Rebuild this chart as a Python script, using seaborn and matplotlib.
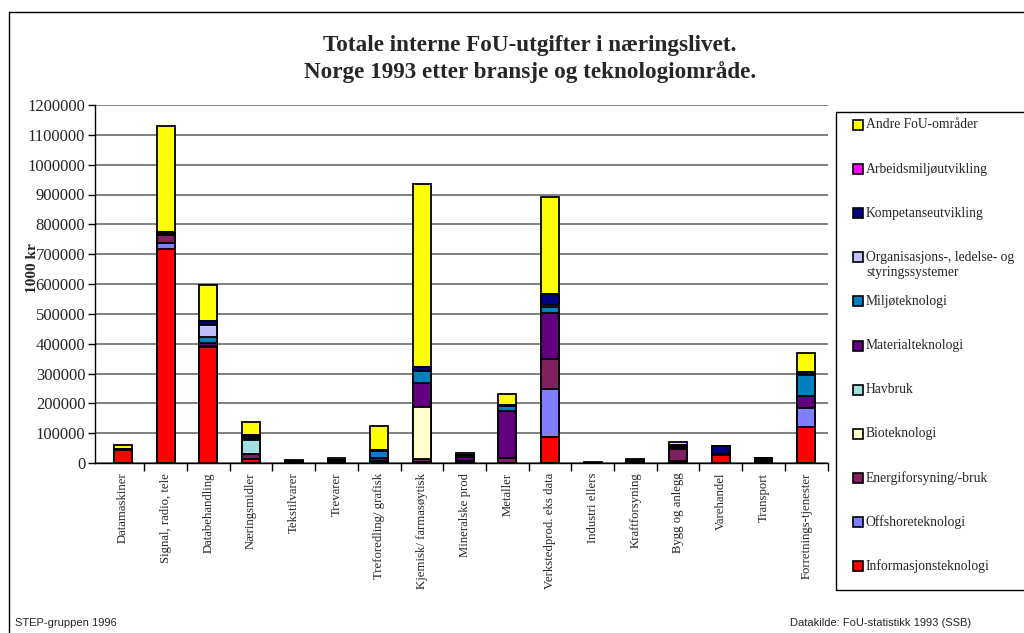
import numpy as np
import pandas as pd
import matplotlib.pyplot as plt
from matplotlib.lines import Line2D
from matplotlib.patches import Rectangle
import seaborn as sns

# ----------------------------------
# Data (1000 kr)
# ----------------------------------
branches = [
    "Datamaskiner", "Signal, radio, tele", "Databehandling", "Næringsmidler",
    "Tekstilvarer", "Trevarer", "Treforedling/ grafisk", "Kjemisk/ farmasøytisk",
    "Mineralske prod", "Metaller", "Verkstedprod. eks data", "Industri ellers",
    "Kraftforsyning", "Bygg og anlegg", "Varehandel", "Transport",
    "Forretnings-tjenester",
]

areas = [
    "Informasjonsteknologi", "Offshoreteknologi", "Energiforsyning/-bruk",
    "Bioteknologi", "Havbruk", "Materialteknologi", "Miljøteknologi",
    "Organisasjons-, ledelse- og\nstyringssystemer", "Kompetanseutvikling",
    "Arbeidsmiljøutvikling", "Andre FoU-områder",
]

colors = [
    "#FF0000", "#8080FF", "#802060", "#FFFFCC", "#A0E0E0", "#600080",
    "#0080C0", "#C0C0FF", "#000080", "#FF00FF", "#FFFF00",
]

informasjon = [45000, 716000, 388000, 14000, 0, 0, 2000, 4000, 2000, 0, 88000, 0, 0, 4000, 27000, 0, 122000]
offshore = [0, 22000, 0, 0, 0, 2000, 0, 0, 0, 0, 159000, 0, 0, 4000, 0, 0, 64000]
energi = [0, 27000, 5000, 16000, 2000, 0, 0, 8000, 4000, 17000, 101000, 0, 3000, 38000, 0, 8000, 0]
bioteknologi = [0, 0, 0, 0, 0, 0, 6000, 175000, 0, 0, 0, 0, 0, 0, 0, 0, 0]
havbruk = [0, 0, 0, 47000, 0, 0, 0, 0, 0, 0, 0, 0, 0, 0, 0, 0, 0]
material = [0, 5000, 10000, 6000, 3000, 5000, 9000, 82000, 14000, 158000, 156000, 1000, 0, 3000, 0, 7000, 40000]
miljo = [0, 0, 18000, 4000, 0, 2000, 22000, 40000, 4000, 17000, 20000, 0, 0, 6000, 4000, 2000, 69000]
organisasjon = [0, 0, 40000, 0, 0, 0, 0, 0, 3000, 0, 4000, 0, 0, 2000, 0, 0, 0]
kompetanse = [3000, 3000, 16000, 8000, 3000, 2000, 6000, 14000, 0, 2000, 39000, 0, 6000, 2000, 26000, 0, 11000]
arbeidsmiljo = [0, 0, 0, 0, 0, 0, 0, 0, 0, 0, 0, 0, 0, 3000, 0, 0, 0]
andre = [14000, 357000, 119000, 43000, 2000, 5000, 79000, 611000, 6000, 36000, 326000, 3000, 3000, 8000, 0, 0, 64000]

series = [informasjon, offshore, energi, bioteknologi, havbruk, material,
          miljo, organisasjon, kompetanse, arbeidsmiljo, andre]

df = pd.DataFrame(np.array(series).T, index=branches, columns=areas)
cum = df.cumsum(axis=1)

# ----------------------------------
# Figure
# ----------------------------------
sns.set_style("white")
plt.rcParams["font.family"] = ["Liberation Serif", "DejaVu Serif"]

fig = plt.figure(figsize=(10.24, 6.33), dpi=100)
W, H = 1024, 633
ax = fig.add_axes([95 / W, 1 - 463 / H, (828 - 95) / W, (463 - 105) / H])

# stacked bars: draw cumulative tops from the highest level down
for i in range(len(areas) - 1, -1, -1):
    sns.barplot(
        x=branches, y=cum.iloc[:, i].values, color=colors[i], saturation=1,
        width=0.42, edgecolor="black", linewidth=1.3, errorbar=None, ax=ax,
    )

ax.set_ylim(0, 1200000)
ax.set_xlim(-0.656, 16.51)
ax.set_yticks(np.arange(0, 1200001, 100000))
ax.set_yticklabels([str(v) for v in range(0, 1200001, 100000)], fontsize=12)
ax.yaxis.grid(True, color="#808080", linewidth=1.4)
ax.set_axisbelow(True)
ax.tick_params(axis="y", which="major", left=True, length=5, width=1, color="black", pad=2)

ax.set_xticks(range(len(branches)))
ax.set_xticklabels(branches, rotation=90, fontsize=9.2)
ax.tick_params(axis="x", which="major", bottom=False, length=0, pad=7)
ax.set_xticks(np.arange(0.5, len(branches), 1.0), minor=True)
ax.tick_params(axis="x", which="minor", bottom=True, length=6, width=1, color="black", direction="out")

for s in ["top", "right"]:
    ax.spines[s].set_visible(False)
for s in ["left", "bottom"]:
    ax.spines[s].set_color("black")
    ax.spines[s].set_linewidth(1)

ax.set_ylabel("")
ax.set_xlabel("")
fig.text(33 / W, 1 - 268 / H, "1000 kr", rotation=90, ha="center", va="center",
         fontsize=11, fontweight="bold")

# title
fig.text(530 / W, 1 - 45 / H, "Totale interne FoU-utgifter i næringslivet.",
         ha="center", va="center", fontsize=16.7, fontweight="bold")
fig.text(530 / W, 1 - 72 / H, "Norge 1993 etter bransje og teknologiområde.",
         ha="center", va="center", fontsize=16.7, fontweight="bold")

# ----------------------------------
# Legend box (manual, entries top to bottom)
# ----------------------------------
fig.add_artist(Line2D([836 / W, 836 / W], [1 - 112 / H, 1 - 590 / H], color="black", lw=1))
fig.add_artist(Line2D([836 / W, 1.0], [1 - 112 / H, 1 - 112 / H], color="black", lw=1))
fig.add_artist(Line2D([836 / W, 1.0], [1 - 590 / H, 1 - 590 / H], color="black", lw=1))

for k, i in enumerate(range(len(areas) - 1, -1, -1)):
    yc = 125 + 44.1 * k
    fig.add_artist(Rectangle((853 / W, 1 - (yc + 5) / H), 10 / W, 10 / H,
                             facecolor=colors[i], edgecolor="black", lw=1.2,
                             transform=fig.transFigure))
    lines = areas[i].split("\n")
    fig.text(866 / W, 1 - yc / H, lines[0], ha="left", va="center", fontsize=9.8)
    if len(lines) > 1:
        fig.text(866 / W, 1 - (yc + 15) / H, lines[1], ha="left", va="center", fontsize=9.8)

# outer frame
fig.add_artist(Line2D([9 / W, 9 / W], [1 - 12 / H, 0.0], color="black", lw=1))
fig.add_artist(Line2D([9 / W, 1.0], [1 - 12 / H, 1 - 12 / H], color="black", lw=1))

# footer
fig.text(15 / W, 1 - 623 / H, "STEP-gruppen 1996", ha="left", va="center",
         fontsize=8, family=["Liberation Sans", "DejaVu Sans"])
fig.text(790 / W, 1 - 623 / H, "Datakilde: FoU-statistikk 1993 (SSB)", ha="left",
         va="center", fontsize=8, family=["Liberation Sans", "DejaVu Sans"])

fig.savefig("out.png", dpi=100)
